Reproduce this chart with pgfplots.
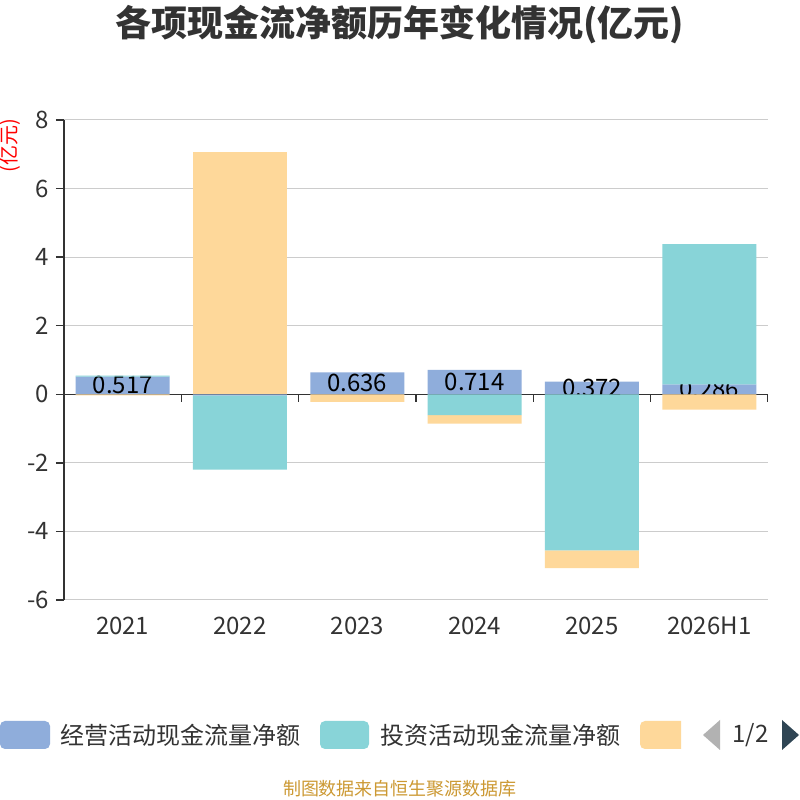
\documentclass[border=0pt]{standalone}
\usepackage{pgfplots}
\pgfplotsset{compat=1.18}
\usepackage{fontspec}
\setmainfont{Noto Sans CJK SC}
\definecolor{cblue}{RGB}{143,173,219}
\definecolor{ccyan}{RGB}{136,212,216}
\definecolor{corange}{RGB}{254,216,154}
\definecolor{ctext}{RGB}{51,51,51}
\definecolor{cgrid}{RGB}{204,204,204}
\definecolor{cgold}{RGB}{204,153,51}
\definecolor{carrow}{RGB}{47,69,84}
\pgfplotsset{base/.style={
  scale only axis, width=352pt, height=240pt,
  at={(32pt,100pt)}, anchor=south west,
  xmin=-0.5, xmax=5.5, ymin=-6, ymax=8,
  bar width=47pt,
}}
\begin{document}
\begin{tikzpicture}[x=1pt,y=1pt]
\useasboundingbox (0,0) rectangle (400,400);
\clip (0,0) rectangle (400,400);
\fill[white] (0,0) rectangle (400,400);
% frame
\begin{axis}[base,
  axis x line*=bottom, axis y line*=left,
  x axis line style={cgrid, line width=0.5pt},
  y axis line style={ctext, line width=0.75pt},
  ytick={-6,-4,...,8}, xtick={0,...,5},
  xticklabels={2021,2022,2023,2024,2025,2026H1},
  x tick style={draw=none},
  y tick style={ctext, line width=0.75pt},
  tick align=outside, major tick length=4pt,
  ymajorgrids, grid style={cgrid, line width=0.5pt},
  /pgf/number format/assume math mode=true,
  ticklabel style={font=\fontsize{12}{14}\selectfont, text=ctext},
  xticklabel style={yshift=-1pt},
]
\draw[ctext, line width=0.75pt] (axis cs:-0.5,0) -- (axis cs:5.5,0);
\draw[ctext, line width=0.75pt] (axis cs:0.5,0) -- ([yshift=-4pt]axis cs:0.5,0);
\draw[ctext, line width=0.75pt] (axis cs:1.5,0) -- ([yshift=-4pt]axis cs:1.5,0);
\draw[ctext, line width=0.75pt] (axis cs:2.5,0) -- ([yshift=-4pt]axis cs:2.5,0);
\draw[ctext, line width=0.75pt] (axis cs:3.5,0) -- ([yshift=-4pt]axis cs:3.5,0);
\draw[ctext, line width=0.75pt] (axis cs:4.5,0) -- ([yshift=-4pt]axis cs:4.5,0);
\draw[ctext, line width=0.75pt] (axis cs:5.5,0) -- ([yshift=-4pt]axis cs:5.5,0);
\end{axis}
% blue bars
\begin{axis}[base, hide axis, ybar, bar shift=0pt]
\addplot[fill=cblue, draw=none] coordinates {(0,0.517) (1,-0.04) (2,0.636) (3,0.714) (4,0.372) (5,0.286)};
\end{axis}
% blue labels
\begin{axis}[base, hide axis]
\addplot[only marks, mark=none, nodes near coords, point meta=explicit symbolic,
  every node near coord/.append style={anchor=center, font=\fontsize{12}{14}\selectfont, text=black}]
  coordinates {(0,0.2585)[0.517] (2,0.318)[0.636] (3,0.357)[0.714] (4,0.186)[0.372] (5,0.143)[0.286]};
\end{axis}
% positive stacks
\begin{axis}[base, hide axis, ybar stacked]
\addplot[fill=none, draw=none] coordinates {(0,0.517) (1,0) (2,0.636) (3,0.714) (4,0.372) (5,0.286)};
\addplot[fill=ccyan, draw=none] coordinates {(0,0.03) (1,0) (2,0) (3,0) (4,0) (5,4.09)};
\addplot[fill=corange, draw=none] coordinates {(0,0) (1,7.07) (2,0) (3,0) (4,0) (5,0)};
\end{axis}
% negative stacks
\begin{axis}[base, hide axis, ybar stacked]
\addplot[fill=none, draw=none] coordinates {(0,0) (1,-0.04) (2,0) (3,0) (4,0) (5,0)};
\addplot[fill=ccyan, draw=none] coordinates {(0,0) (1,-2.16) (2,0) (3,-0.61) (4,-4.555) (5,0)};
\addplot[fill=corange, draw=none] coordinates {(0,-0.03) (1,0) (2,-0.22) (3,-0.245) (4,-0.515) (5,-0.45)};
\end{axis}
% title
\node[font=\fontsize{18}{20}\selectfont\bfseries, text=ctext] at (200,387.5) {各项现金流净额历年变化情况(亿元)};
% y unit
\node[font=\fontsize{10}{11}\selectfont, text=red, rotate=90, inner sep=0pt] at (5,327) {(亿元)};
% legend
\fill[cblue, rounded corners=2.5pt] (0,25.5) rectangle (25,39.5);
\node[anchor=west, inner sep=0pt, font=\fontsize{12}{14}\selectfont, text=ctext] at (30,32.5) {经营活动现金流量净额};
\fill[ccyan, rounded corners=2.5pt] (160,25.5) rectangle (184.5,39.5);
\node[anchor=west, inner sep=0pt, font=\fontsize{12}{14}\selectfont, text=ctext] at (190,32.5) {投资活动现金流量净额};
\begin{scope}
\clip (318,20) rectangle (340.5,45);
\fill[corange, rounded corners=2.5pt] (320,25.5) rectangle (345,39.5);
\end{scope}
\fill[gray!60] (360,40) -- (351.5,32.5) -- (360,25) -- cycle;
\node[font=\fontsize{12}{14}\selectfont, text=ctext] at (375.25,32.5) {1/2};
\fill[carrow] (391,40) -- (399.5,32.5) -- (391,25) -- cycle;
% footer
\node[font=\fontsize{9}{10}\selectfont, text=cgold] at (200,5.5) {制图数据来自恒生聚源数据库};
\end{tikzpicture}
\end{document}
